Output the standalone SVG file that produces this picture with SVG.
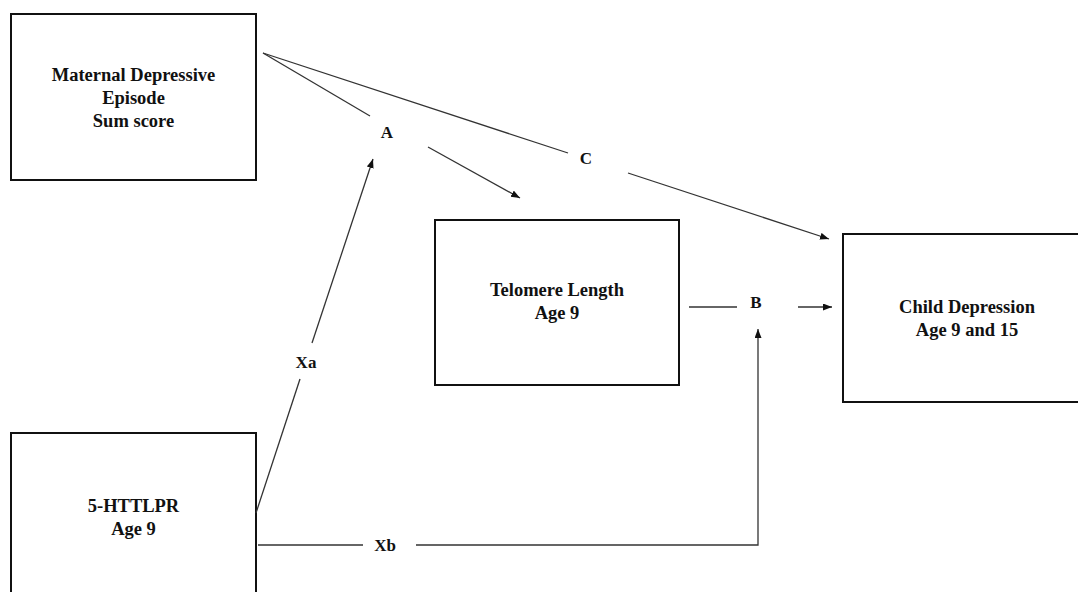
<svg xmlns="http://www.w3.org/2000/svg" width="1078" height="592" viewBox="0 0 1078 592">
<style>
.box{fill:#fff;stroke:#111;stroke-width:2}
.t{font-family:"Liberation Serif","Times New Roman",serif;font-weight:bold;font-size:18.5px;fill:#111;text-anchor:middle}
.lb{font-family:"Liberation Serif","Times New Roman",serif;font-weight:bold;font-size:17px;fill:#111;text-anchor:middle}
.ln{fill:none;stroke:#333;stroke-width:1.3}
</style>
<defs>
<marker id="ah" markerUnits="userSpaceOnUse" markerWidth="10" markerHeight="8" refX="9" refY="3.5" orient="auto">
<path d="M0,0 L9,3.5 L0,7 z" fill="#111"/>
</marker>
</defs>
<rect width="1078" height="592" fill="#fff"/>
<g id="maternal">
<rect class="box" x="11" y="14" width="245" height="166"/>
<text class="t" x="133.5" y="81">Maternal Depressive</text>
<text class="t" x="133.5" y="104">Episode</text>
<text class="t" x="133.5" y="127">Sum score</text>
</g>
<g id="telomere">
<rect class="box" x="435" y="220" width="244" height="165"/>
<text class="t" x="557" y="296">Telomere Length</text>
<text class="t" x="557" y="319">Age 9</text>
</g>
<g id="child">
<rect class="box" x="843" y="234" width="250" height="168"/>
<text class="t" x="967" y="313">Child Depression</text>
<text class="t" x="967" y="336">Age 9 and 15</text>
</g>
<g id="httlpr">
<rect class="box" x="11" y="433" width="245" height="170"/>
<text class="t" x="133.5" y="512">5-HTTLPR</text>
<text class="t" x="133.5" y="535">Age 9</text>
</g>
<g id="connectors">
<path class="ln" d="M263,53 L370,116"/>
<path class="ln" d="M263,53 L568,153"/>
<path class="ln" d="M428,147 L520,198" marker-end="url(#ah)"/>
<path class="ln" d="M628,173 L829,239" marker-end="url(#ah)"/>
<path class="ln" d="M689,307 L737,307"/>
<path class="ln" d="M798,307 L832,307" marker-end="url(#ah)"/>
<path class="ln" d="M256,513 L300,379"/>
<path class="ln" d="M312,343 L373,159" marker-end="url(#ah)"/>
<path class="ln" d="M258,545 L363,545"/>
<path class="ln" d="M416,545 L758,545 L758,329" marker-end="url(#ah)"/>
<text class="lb" x="387" y="138">A</text>
<text class="lb" x="586" y="164">C</text>
<text class="lb" x="756" y="308">B</text>
<text class="lb" x="306" y="368">Xa</text>
<text class="lb" x="385" y="551">Xb</text>
</g>
</svg>
